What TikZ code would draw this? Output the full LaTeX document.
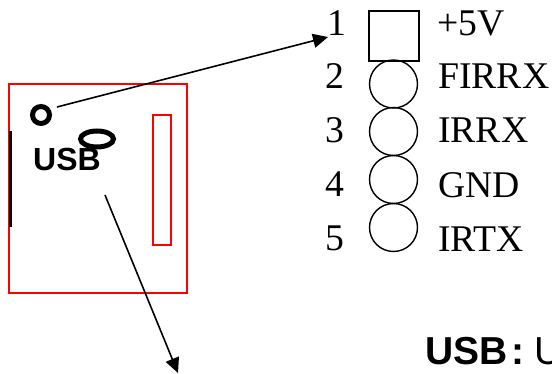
\documentclass[tikz,border=0pt]{standalone}
\usepackage{fontspec}
\setmainfont{Liberation Serif}
\newfontfamily\arialf{Liberation Sans}
\usetikzlibrary{arrows.meta,shapes.geometric}
\tikzset{
  redbox/.style={draw=red,line width=1.5pt,rectangle,inner sep=0pt,minimum width=#1},
  pinlabel/.style={anchor=base west,inner sep=0pt,font=\fontsize{37.7}{37.7}\selectfont},
  pinround/.style={draw=black,line width=1.4pt,circle,inner sep=0pt,minimum size=48pt},
  pinsquare/.style={draw=black,line width=1.4pt,rectangle,inner sep=0pt,minimum size=50pt},
  thickring/.style={draw=black,line width=5pt,inner sep=0pt},
  pointer/.style={draw=black,line width=1.6pt,-{Triangle[length=15pt,width=14pt]}},
}
\begin{document}
\begin{tikzpicture}[x=1pt,y=-1pt]
\useasboundingbox (0,0) rectangle (552,374);
\node[redbox=178pt,minimum height=209pt] (board) at (98,188.5) {};
\node[redbox=18pt,minimum height=130pt] (slot) at (162,180) {};
\node[draw=none,fill=black,inner sep=0pt,minimum width=3pt,minimum height=96pt] (edge) at (10.5,179) {};
\node[thickring,circle,minimum size=17pt] (ring) at (41,115) {};
\node[thickring,ellipse,minimum width=33pt,minimum height=16pt] (oval) at (97,139) {};
\node[anchor=base west,inner sep=0pt,font=\arialf\bfseries\fontsize{32}{32}\selectfont] (usb) at (33,171) {USB};
\node[anchor=base west,inner sep=0pt,font=\arialf\fontsize{39}{39}\selectfont] (note) at (425,364) {\textbf{USB\kern3.5pt:}\kern10pt U};
\node[pinsquare] (p1) at (394,36) {};
\node[pinround] (p2) at (393.5,84) {};
\node[pinround] (p3) at (393.5,131.5) {};
\node[pinround] (p4) at (393.5,179.5) {};
\node[pinround] (p5) at (393.5,227.5) {};
\node[pinlabel] (n1) at (327,36) {1};
\node[pinlabel] (n2) at (325,89) {2};
\node[pinlabel] (n3) at (325,143) {3};
\node[pinlabel] (n4) at (325,197) {4};
\node[pinlabel] (n5) at (325,251) {5};
\node[pinlabel] (t1) at (437,36) {+5V};
\node[pinlabel] (t2) at (438,89) {FIRRX};
\node[pinlabel] (t3) at (438,143) {IRRX};
\node[pinlabel] (t4) at (438,198) {GND};
\node[pinlabel] (t5) at (438,252) {IRTX};
\coordinate (a1s) at (57,107);
\coordinate (a1e) at (328,37);
\coordinate (a2s) at (105,195);
\coordinate (a2e) at (178,373);
\draw[pointer] (a1s) -- (a1e);
\draw[pointer] (a2s) -- (a2e);
\end{tikzpicture}
\end{document}
